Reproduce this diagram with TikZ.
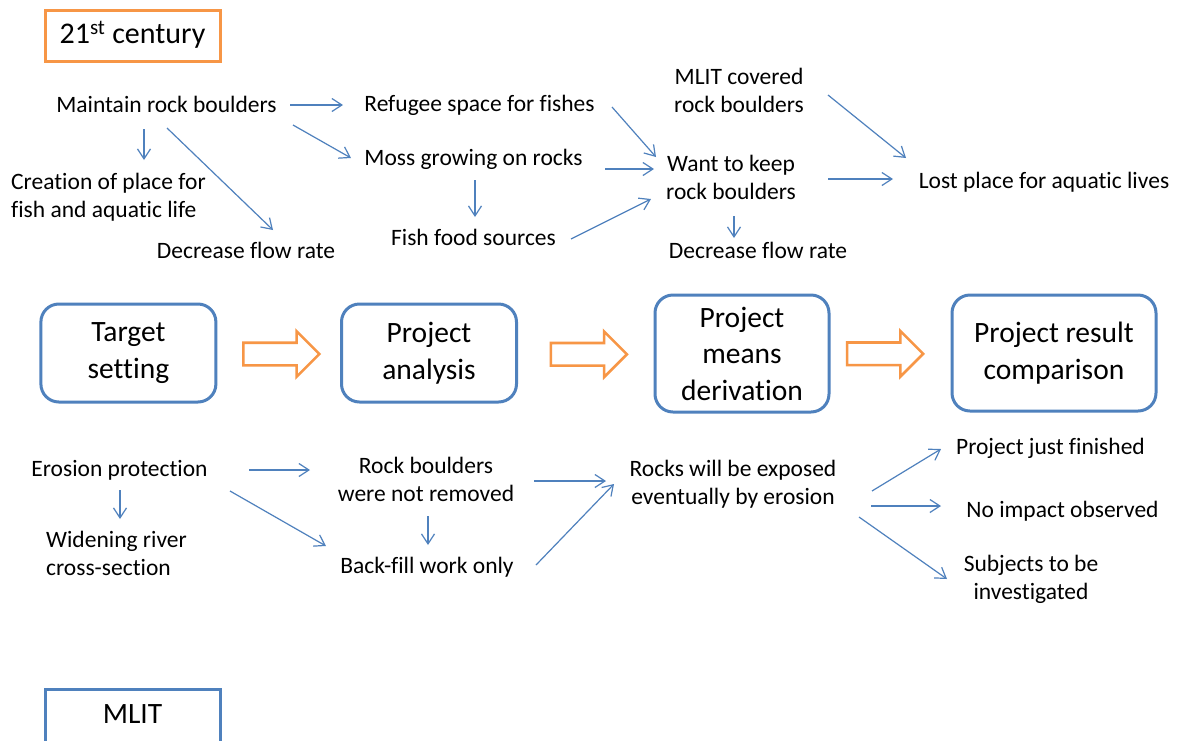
\documentclass[tikz,border=0pt]{standalone}
\usepackage{fontspec}
\setmainfont{Carlito}[Ligatures=NoCommon]
\usetikzlibrary{arrows.meta,calc,shapes.arrows}
\definecolor{lblue}{RGB}{79,129,189}
\definecolor{orng}{RGB}{247,150,70}
\begin{document}
\begin{tikzpicture}[x=1pt,y=-1pt,
  txt/.style={inner sep=0pt, font=\fontsize{23.5}{28.5}\selectfont, align=center, anchor=base},
  ltxt/.style={txt, align=left, anchor=base west},
  arr/.style={draw=lblue, line width=1.2pt, -{Straight Barb[length=10pt,width=13pt,line width=1.2pt]}},
  stage/.style={draw=lblue, line width=3pt, rounded corners=18pt, inner sep=0pt, align=center, font=\fontsize{29.5}{36.5}\selectfont},
  harrow/.style={single arrow, draw=orng, line width=2.6pt, fill=white, inner xsep=0pt, inner ysep=10pt, single arrow head extend=11.5pt, minimum height=76pt},
]
\useasboundingbox (0,0) rectangle (1179,740);
\fill[white] (0,0) rectangle (1179,740);

% header
\node[draw=orng, line width=3pt, minimum width=175pt, minimum height=51pt, inner sep=0pt, text height=21pt, text depth=5pt, font=\fontsize{30}{36}\selectfont] (century) at (132.5,35.5) {21\textsuperscript{st} century};

% top texts (base = baseline of the last line)
\node[txt] (maint) at (166.5,112) {Maintain rock boulders};
\node[txt] (refug) at (479.5,111) {Refugee space for fishes};
\node[txt] (moss) at (473.5,165) {Moss growing on rocks};
\node[txt] (mlitc) at (739,112.5) {MLIT covered\\rock boulders};
\node[txt] (want) at (731,199.5) {Want to keep\\rock boulders};
\node[txt] (lost) at (1044,188) {Lost place for aquatic lives};
\node[ltxt] (creat) at (11,217.5) {Creation of place for\\fish and aquatic life};
\node[txt] (decl) at (246,258) {Decrease flow rate};
\node[txt] (food) at (473.5,245) {Fish food sources};
\node[txt] (decr) at (758,258) {Decrease flow rate};

% top arrows
\draw[arr] ($(maint.base)+(123.5,-7)$) -- ($(refug.base)+(-136.5,-6)$);
\draw[arr] ($(maint.base)+(126.5,13)$) -- ($(moss.base)+(-122.5,-7)$);
\draw[arr] ($(maint.base)+(-22.5,17)$) -- ($(creat.base west)+(133,-57.5)$);
\draw[arr] ($(maint.base)+(0.5,16)$) -- ($(decl.base)+(27,-28)$);
\draw[arr] ($(refug.base)+(132.5,-4)$) -- ($(want.base)+(-75,-42.5)$);
\draw[arr] ($(moss.base)+(131.5,4)$) -- ($(want.base)+(-77,-30.5)$);
\draw[arr] ($(moss.base)+(1.5,15)$) -- ($(food.base)+(1.5,-28)$);
\draw[arr] ($(food.base)+(97.5,-6)$) -- ($(want.base)+(-80,-0.5)$);
\draw[arr] ($(mlitc.base)+(89,-17.5)$) -- ($(lost.base)+(-138,-30)$);
\draw[arr] ($(want.base)+(97,-20.5)$) -- ($(lost.base)+(-151,-9)$);
\draw[arr] ($(want.base)+(3,16.5)$) -- ($(decr.base)+(-24,-20)$);

% stages
\node[stage, minimum width=175pt, minimum height=98pt] (target) at (128.4,353) {Target\\setting};
\node[stage, minimum width=175pt, minimum height=98pt] (analysis) at (429,353) {Project\\analysis};
\node[stage, minimum width=174pt, minimum height=117pt] (means) at (742,353.5) {Project\\means\\derivation};
\node[stage, minimum width=204pt, minimum height=116pt] (result) at (1054,353) {Project result\\comparison};

\node[harrow] (h1) at ($(target.east)!0.5!(analysis.west)+(-3,1)$) {};
\node[harrow] (h2) at ($(analysis.east)!0.5!(means.west)+(-2.5,1)$) {};
\node[harrow] (h3) at ($(means.east)!0.5!(result.west)+(-11,0.5)$) {};

% bottom texts
\node[txt] (eros) at (119.5,476) {Erosion protection};
\node[ltxt] (widen) at (46,575.5) {Widening river\\cross-section};
\node[txt] (rockb) at (426,501.5) {Rock boulders\\were not removed};
\node[txt] (backf) at (427,573) {Back-fill work only};
\node[txt] (rocks) at (733,504.5) {Rocks will be exposed\\eventually by erosion};
\node[txt] (fin) at (1050.5,454) {Project just finished};
\node[txt] (noimp) at (1062.5,517) {No impact observed};
\node[txt] (subj) at (1031,599.5) {Subjects to be\\investigated};

% bottom arrows
\draw[arr] ($(eros.base)+(0.5,14)$) -- ($(widen.base west)+(74,-56.5)$);
\draw[arr] ($(eros.base)+(129.5,-6)$) -- ($(rockb.base)+(-116,-31.5)$);
\draw[arr] ($(eros.base)+(110.5,15)$) -- ($(backf.base)+(-101,-27)$);
\draw[arr] ($(rockb.base)+(2,14.5)$) -- ($(backf.base)+(1,-28)$);
\draw[arr] ($(rockb.base)+(108,-20.5)$) -- ($(rocks.base)+(-127,-23.5)$);
\draw[arr] ($(backf.base)+(109,-8)$) -- ($(rocks.base)+(-119,-20.5)$);
\draw[arr] ($(rocks.base)+(139,-13.5)$) -- ($(fin.base)+(-109.5,-5)$);
\draw[arr] ($(rocks.base)+(138,1.5)$) -- ($(noimp.base)+(-121.5,-11)$);
\draw[arr] ($(rocks.base)+(126,12.5)$) -- ($(subj.base)+(-84,-20.5)$);

% MLIT box (cut by the lower edge)
\begin{scope}
\clip (0,0) rectangle (1179,740);
\node[draw=lblue, line width=3pt, minimum width=175pt, minimum height=60pt, inner sep=0pt, text height=19pt, text depth=12pt, font=\fontsize{29.5}{36}\selectfont] (mlit) at (132.5,719.5) {MLIT};
\end{scope}
\end{tikzpicture}
\end{document}
